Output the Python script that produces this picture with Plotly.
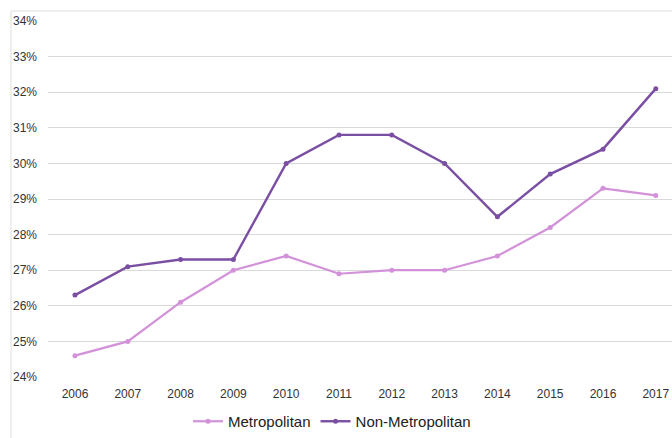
import plotly.graph_objects as go

years = [2006, 2007, 2008, 2009, 2010, 2011, 2012, 2013, 2014, 2015, 2016, 2017]
metro = [24.6, 25.0, 26.1, 27.0, 27.4, 26.9, 27.0, 27.0, 27.4, 28.2, 29.3, 29.1]
non_metro = [26.3, 27.1, 27.3, 27.3, 30.0, 30.8, 30.8, 30.0, 28.5, 29.7, 30.4, 32.1]
y_ticks = [24, 25, 26, 27, 28, 29, 30, 31, 32, 33, 34]
y_labels = [f"{v}%" for v in y_ticks]

fig = go.Figure()
fig.add_trace(go.Scatter(x=years, y=metro, name="Metropolitan", mode="lines+markers",
                         line=dict(color="#d291d8", width=2.2), marker=dict(size=5, color="#d291d8")))
fig.add_trace(go.Scatter(x=years, y=non_metro, name="Non-Metropolitan", mode="lines+markers",
                         line=dict(color="#7a4fa3", width=2.4), marker=dict(size=5, color="#7a4fa3")))

W, H = 672, 438
ml, mr, mt, mb = 48, 0, 21, 61
pw, ph = W - ml - mr, H - mt - mb

def px_x(p):
    return (p - ml) / pw

def px_y(p):
    return (H - mb - p) / ph

fig.update_layout(
    width=W, height=H,
    margin=dict(l=ml, r=mr, t=mt, b=mb),
    paper_bgcolor="white", plot_bgcolor="white",
    font=dict(family="Liberation Sans, Arial, sans-serif", color="#333333", size=12),
    xaxis=dict(range=[2005.489, 2017.307], tickvals=years, ticktext=[str(y) for y in years],
               showgrid=False, zeroline=False, showline=False, ticks="", ticklabelstandoff=8,
               tickfont=dict(size=12, color="#333333")),
    yaxis=dict(range=[24, 34], tickvals=y_ticks, ticktext=y_labels,
               showgrid=True, gridcolor="#d9d9d9", gridwidth=1, zeroline=False, showline=False,
               ticks="", ticklabelstandoff=10, tickfont=dict(size=12, color="#333333")),
    legend=dict(orientation="h", x=px_x(332), xanchor="center", y=px_y(422), yanchor="middle",
                font=dict(size=15, color="#222222"), itemwidth=30, tracegroupgap=0),
    showlegend=True,
    shapes=[
        dict(type="line", xref="paper", yref="paper", x0=px_x(11), x1=px_x(11), y0=px_y(11), y1=px_y(440),
             line=dict(color="#dddddd", width=1)),
        dict(type="line", xref="paper", yref="paper", x0=px_x(11), x1=px_x(672), y0=px_y(11), y1=px_y(11),
             line=dict(color="#dddddd", width=1)),
    ],
)

fig.write_html("out.html")
